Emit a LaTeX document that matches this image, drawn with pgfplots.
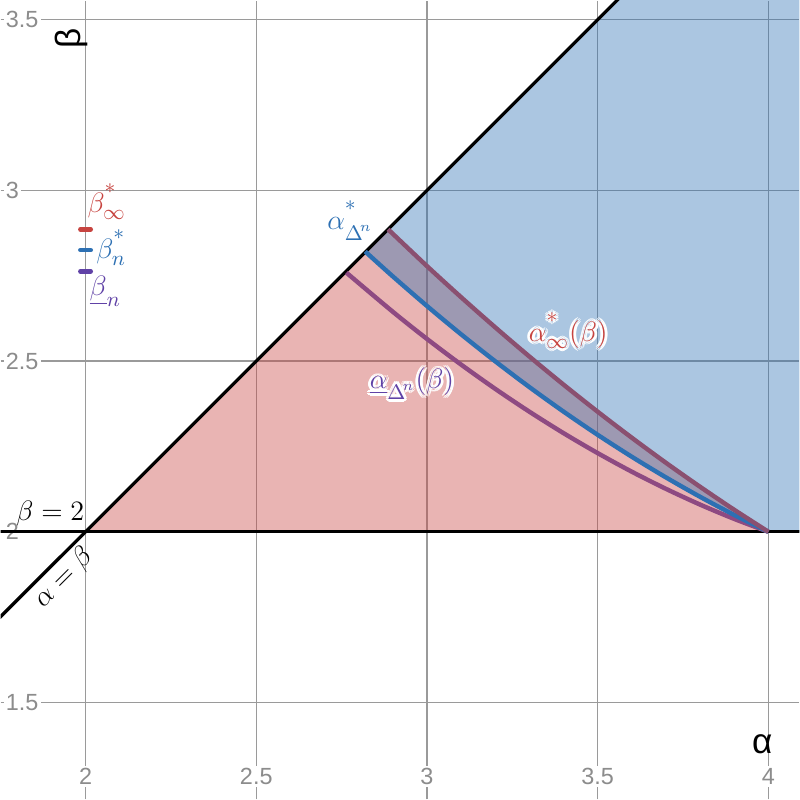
\documentclass[border=0pt]{standalone}
\usepackage{pgfplots}
\pgfplotsset{compat=1.18}
\usepackage{fontspec}
\setmainfont{Liberation Sans}
\usepackage{contour}
\contourlength{1.2pt}
\contournumber{10}
\definecolor{dred}{HTML}{C74440}
\definecolor{dblue}{HTML}{2D70B3}
\definecolor{dpurple}{HTML}{6042A6}
\definecolor{maroonc}{HTML}{8A5070}
\definecolor{plumc}{HTML}{8E4A82}
\definecolor{gridgray}{HTML}{9A9A9A}
\definecolor{tickgray}{HTML}{8C8C8C}
\newcommand{\lbl}{\fontsize{12.5}{14}\selectfont}
\newcommand{\st}{\raisebox{0.3em}{$\scriptstyle *$}}
\newcommand{\dn}{\raisebox{-0.15em}{$\scriptstyle \Delta^{\!n}$}}
\begin{document}
\begin{tikzpicture}
\begin{axis}[
  width=12cm, height=12cm, scale only axis,
  xmin=1.7515, xmax=4.0906, ymin=1.2164, ymax=3.5556,
  axis line style={draw=none}, tick style={draw=none},
  xtick={2,2.5,3,3.5,4}, xticklabels={2,2.5,3,3.5,4},
  ytick={1.5,2,2.5,3,3.5}, yticklabels={1.5,2,2.5,3,3.5},
  grid=major, major grid style={gridgray, line width=0.6pt},
  xticklabel style={anchor=south, yshift=5pt, fill=white, inner sep=1pt,
    text=tickgray, font=\fontsize{10}{12}\selectfont},
  yticklabel style={anchor=west, xshift=1pt, fill=white, inner sep=1pt,
    text=tickgray, font=\fontsize{10}{12}\selectfont},
]
% regions
\addplot[draw=none, fill=dred, fill opacity=0.4] coordinates {
  (2,2) (2.886,2.886) (3.0,2.7782) (3.1,2.6870) (3.2,2.5987) (3.3,2.5133)
  (3.4,2.4310) (3.5,2.3517) (3.6,2.2754) (3.7,2.2020) (3.8,2.1317)
  (3.9,2.0643) (4,2)
} -- cycle;
\addplot[draw=none, fill=dblue, fill opacity=0.4] coordinates {
  (2.819,2.821) (2.9,2.7480) (3.0,2.6614) (3.1,2.5784) (3.2,2.4993)
  (3.3,2.4238) (3.4,2.3520) (3.5,2.2840) (3.6,2.2197) (3.7,2.1592)
  (3.8,2.1024) (3.9,2.0493) (4,2) (4.2,2) (4.2,3.7) (3.7,3.7)
} -- cycle;
% alpha = beta and beta = 2
\addplot[black, line width=1.4pt] coordinates {(1.6,1.6) (3.7,3.7)};
\addplot[black, line width=1.4pt] coordinates {(1.6,2) (4.2,2)};
% curves
\addplot[plumc, line width=1.9pt, smooth] coordinates {
  (2.764,2.759) (2.9,2.6444) (3.0,2.5649) (3.1,2.4897) (3.2,2.4186)
  (3.3,2.3517) (3.4,2.2889) (3.5,2.2304) (3.6,2.1759) (3.7,2.1257)
  (3.8,2.0796) (3.9,2.0377) (4,2)
};
\addplot[dblue, line width=1.9pt, smooth] coordinates {
  (2.819,2.821) (2.9,2.7480) (3.0,2.6614) (3.1,2.5784) (3.2,2.4993)
  (3.3,2.4238) (3.4,2.3520) (3.5,2.2840) (3.6,2.2197) (3.7,2.1592)
  (3.8,2.1024) (3.9,2.0493) (4,2)
};
\addplot[maroonc, line width=1.9pt, smooth] coordinates {
  (2.886,2.886) (3.0,2.7782) (3.1,2.6870) (3.2,2.5987) (3.3,2.5133)
  (3.4,2.4310) (3.5,2.3517) (3.6,2.2754) (3.7,2.2020) (3.8,2.1317)
  (3.9,2.0643) (4,2)
};
% marks on the beta axis
\addplot[dred, line width=2pt, line cap=round] coordinates {(1.985,2.886) (2.015,2.886)};
\addplot[dblue, line width=2pt, line cap=round] coordinates {(1.985,2.825) (2.015,2.825)};
\addplot[dpurple, line width=2pt, line cap=round] coordinates {(1.985,2.763) (2.015,2.763)};
% labels
\node[text=dred, font=\lbl] at (axis cs:2.062,2.968) {$\beta^{\st}_{\infty}$};
\node[text=dblue, font=\lbl] at (axis cs:2.075,2.833) {$\beta^{\st}_{n}$};
\node[text=dpurple, font=\lbl] at (axis cs:2.058,2.705) {$\underline{\beta}_{n}$};
\node[text=dblue, font=\lbl] at (axis cs:2.775,2.912) {$\alpha^{\st}_{\dn}$};
\node[font=\lbl] at (axis cs:3.414,2.585) {\contour{white}{\textcolor{dred}{$\alpha^{\st}_{\infty}(\beta)$}}};
\node[font=\lbl] at (axis cs:2.956,2.430) {\contour{white}{\textcolor{dpurple}{$\underline{\alpha}_{\dn}(\beta)$}}};
\node[font=\fontsize{11.5}{13}\selectfont] at (axis cs:1.897,2.053) {$\beta = 2$};
\node[font=\lbl, rotate=45] at (axis cs:1.936,1.865) {$\alpha = \beta$};
\node[font=\fontsize{15}{17}\selectfont, rotate=90] at (axis cs:1.960,3.444) {β};
\node[font=\fontsize{15}{17}\selectfont] at (axis cs:3.982,1.377) {α};
\end{axis}
\end{tikzpicture}
\end{document}
